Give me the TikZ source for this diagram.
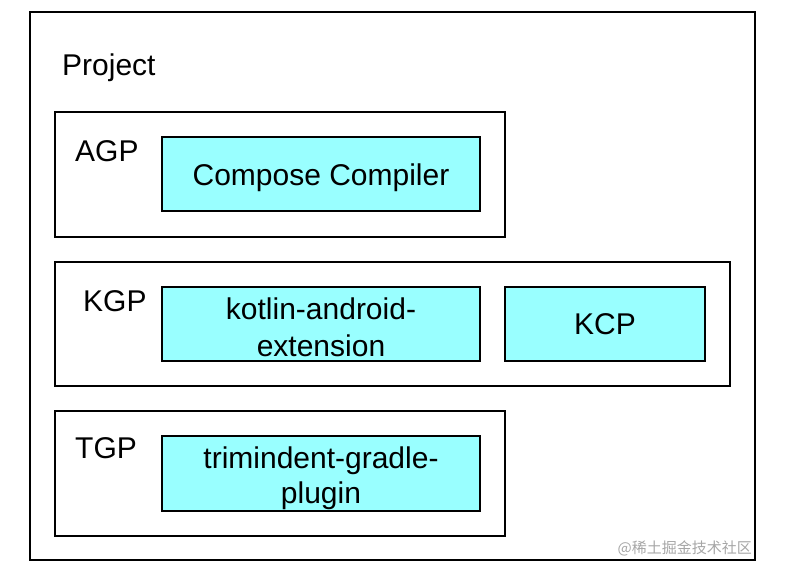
\documentclass[tikz,border=0pt]{standalone}
\usepackage{xcolor}
\usepackage{fontspec}
\setmainfont{Liberation Sans}
\newfontfamily\cjkfont{Noto Sans CJK SC}
\usepackage{tikz}
\usetikzlibrary{positioning}

\definecolor{plugincyan}{RGB}{153,255,255}

\begin{document}
\begin{tikzpicture}[
    x=1pt, y=-1pt,
    group/.style={draw, line width=2pt, minimum width=#1, inner sep=0pt},
    plugin/.style={draw, line width=2pt, fill=plugincyan, minimum height=74pt, inner sep=0pt},
    plugintext/.style={align=center, inner sep=0pt, font=\fontsize{30}{37}\selectfont},
    title/.style={anchor=base west, inner sep=0pt, font=\fontsize{30}{36}\selectfont}
]
\useasboundingbox (0,0) rectangle (801,584);

\node[group=725pt, line width=2.5pt, minimum height=548pt] (project) at (392.5,286) {};
\node[title] (projectlbl) at (62,75) {Project};

% AGP
\node[group=450pt, minimum height=125pt] (agp) at (280,174.5) {};
\node[title] (agplbl) at (75,161) {AGP};
\node[plugin, minimum width=318pt] (compose) at (321,174) {};
\node[plugintext] (composetext) at ([yshift=-4pt]compose.center) {Compose Compiler};

% KGP
\node[group=675pt, minimum height=124pt] (kgp) at (392.5,324) {};
\node[title] (kgplbl) at (83,311) {KGP};
\node[plugin, minimum width=318pt] (kae) at (321,324) {};
\node[plugintext] (kaetext) at ([yshift=-3pt]kae.center) {kotlin-android-\\extension};
\node[plugin, minimum width=200pt] (kcp) at (605,324) {};
\node[plugintext] (kcptext) at (kcp.center) {KCP};

% TGP
\node[group=450pt, minimum height=125pt] (tgp) at (280,473.5) {};
\node[title] (tgplbl) at (75,458) {TGP};
\node[plugin, minimum width=318pt, minimum height=75pt] (trim) at (321,473.5) {};
\node[plugintext, font=\fontsize{30}{35}\selectfont] (trimtext) at ([yshift=-5pt]trim.center)
    {trimindent-gradle-\\plugin};

\node[anchor=east, inner sep=0pt, text=black!35, font=\cjkfont\fontsize{15}{18}\selectfont]
    (mark) at (752,548) {@稀土掘金技术社区};
\end{tikzpicture}
\end{document}
